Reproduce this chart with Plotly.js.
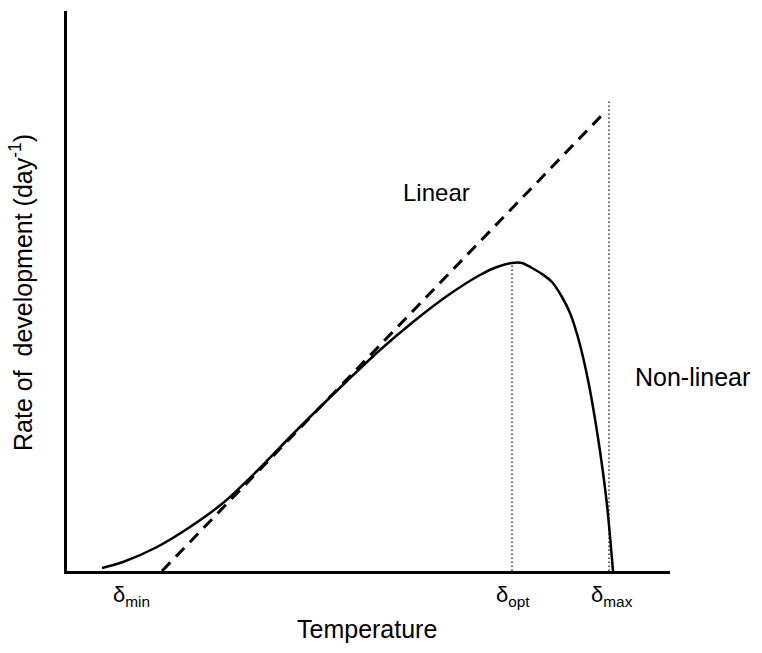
<!DOCTYPE html>
<html>
<head>
<meta charset="utf-8">
<script src="https://cdn.plot.ly/plotly-3.0.1.min.js"></script>
<style>
  html, body { margin: 0; padding: 0; background: #fff; }
  #plot { width: 762px; height: 653px; }
</style>
</head>
<body>
<div id="plot"></div>
<script>
// Non-linear development curve (arbitrary units)
const curveX = [35, 56, 90, 123, 156, 190, 223, 246, 280, 313, 346, 380, 413, 430, 445, 455, 465, 475, 485, 495, 503, 510, 516, 522, 528, 534, 540, 546];
const curveY = [3, 9, 24, 44, 68, 100, 134, 157, 190, 221, 249, 275, 296, 304, 308, 308, 303, 297, 289, 274, 258, 237, 214, 186, 152, 113, 66, 0];

// Linear model
const linearX = [95, 537];
const linearY = [0, 458];

// Threshold temperatures
const deltaNames = ["min", "opt", "max"];
const deltaX = [64, 445, 542];
const optTop = 309;
const maxTop = 471;

const XMAX = 603, YMAX = 560;
const font = "Liberation Sans, Arial, sans-serif";

const traces = [
    {
        x: linearX,
        y: linearY,
        mode: "lines",
        line: {color: "#000", width: 3, dash: "12px,8px"},
        cliponaxis: false,
        hoverinfo: "skip"
    },
    {
        x: [deltaX[1], deltaX[1]],
        y: [0, optTop],
        mode: "lines",
        line: {color: "#333", width: 1.5, dash: "1.5px,2.5px"},
        cliponaxis: false,
        hoverinfo: "skip"
    },
    {
        x: [deltaX[2], deltaX[2]],
        y: [0, maxTop],
        mode: "lines",
        line: {color: "#333", width: 1.5, dash: "1.5px,2.5px"},
        cliponaxis: false,
        hoverinfo: "skip"
    },
    {
        x: curveX,
        y: curveY,
        mode: "lines",
        line: {color: "#000", width: 2.5, shape: "spline", smoothing: 0.9},
        cliponaxis: false,
        hoverinfo: "skip"
    }
];

// labels placed in data units, converted to paper so they can sit outside the axes
const labels = [
    {x: 369, y: 378, text: "Linear", size: 24},
    {x: 625, y: 194, text: "Non-linear", size: 25},
    {x: 300, y: -58, text: "Temperature", size: 25},
    {x: -46, y: 278, text: "Rate of  development (day<sup>-1</sup>)", size: 25, angle: -90}
].concat(deltaNames.map((n, i) => ({
    x: [64, 446, 545][i], y: -25, text: "δ<sub>" + n + "</sub>", size: 22
})));

const annotations = labels.map(a => ({
    x: a.x / XMAX, y: a.y / YMAX, xref: "paper", yref: "paper",
    text: a.text,
    showarrow: false,
    xanchor: "center", yanchor: "middle",
    textangle: a.angle || 0,
    font: {family: font, size: a.size, color: "#000"}
}));

Plotly.newPlot("plot", traces, {
    width: 762,
    height: 653,
    margin: {l: 67, r: 92, t: 11, b: 82},
    showlegend: false,
    paper_bgcolor: "#fff",
    plot_bgcolor: "#fff",
    xaxis: {
        range: [0, XMAX],
        showline: true, linecolor: "#000", linewidth: 3,
        showgrid: false, zeroline: false, showticklabels: false, ticks: ""
    },
    yaxis: {
        range: [0, YMAX],
        showline: true, linecolor: "#000", linewidth: 3,
        showgrid: false, zeroline: false, showticklabels: false, ticks: ""
    },
    annotations: annotations
}, {displayModeBar: false, staticPlot: true});
</script>
</body>
</html>
